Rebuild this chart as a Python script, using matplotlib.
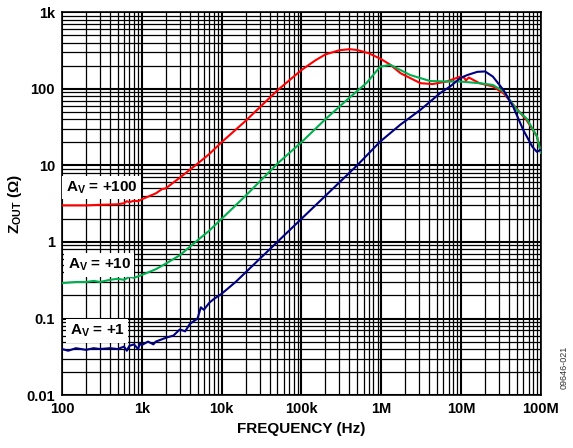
import matplotlib
matplotlib.use("Agg")
import matplotlib.pyplot as plt
from matplotlib.ticker import LogLocator, FixedLocator, NullFormatter

plt.rcParams['font.family'] = ['Liberation Sans', 'DejaVu Sans']
plt.rcParams['mathtext.default'] = 'regular'

# ---- data ----
freq_red = [100, 200, 300, 500, 600, 650, 700, 800, 900, 1e3, 1.5e3, 1.8e3, 2e3, 3e3, 5e3, 7e3,
            1e4, 2e4, 5e4, 1e5, 1.5e5, 2e5, 3e5, 4e5, 5e5, 7e5, 1e6, 1.3e6, 1.75e6, 3.1e6,
            4.4e6, 6.6e6, 9.8e6, 1.1e7, 1.15e7, 1.25e7, 1.7e7, 2.5e7, 3.4e7, 4.5e7, 6.6e7,
            8.9e7, 1e8]
z_red = [3.0, 3.0, 3.05, 3.1, 3.2, 3.4, 3.3, 3.45, 3.4, 3.6, 4.3, 4.9, 5.0, 6.9, 10.5, 14,
         20, 38, 95, 175, 235, 280, 318, 328, 320, 290, 243, 205, 159, 118,
         115, 124, 144, 138, 128, 140, 118, 107, 87, 62, 39,
         24, 14.6]

freq_green = [100, 150, 200, 250, 300, 400, 500, 600, 700, 800, 1e3, 1.2e3, 1.5e3, 2e3, 3e3,
              5e3, 7e3, 1e4, 2e4, 5e4, 1e5, 2e5, 3.75e5, 6.6e5, 9.7e5, 1.3e6, 2.3e6, 4.1e6,
              6.6e6, 9.8e6, 1.7e7, 2.5e7, 3.4e7, 5e7, 6.6e7, 8.9e7, 1e8]
z_green = [0.29, 0.30, 0.30, 0.31, 0.30, 0.32, 0.33, 0.32, 0.35, 0.34, 0.37, 0.40, 0.44, 0.52,
           0.67, 1.05, 1.4, 2.0, 4.0, 10.5, 20, 40, 72, 120, 194, 205, 151, 126,
           124, 124, 118, 112, 92, 53, 41, 24, 14.6]

freq_blue = [100, 120, 150, 200, 250, 300, 400, 500, 600, 650, 700, 800, 900, 950, 1e3, 1.2e3,
             1.4e3, 1.5e3, 2e3, 2.5e3, 3e3, 3.5e3, 4e3, 5e3, 5.5e3, 6e3, 7e3, 8e3, 1e4, 1.5e4,
             2e4, 3e4, 5e4, 1e5, 2e5, 5e5, 9.7e5, 1.74e6, 3.1e6, 5.5e6, 7.3e6, 9.8e6, 1.2e7,
             1.6e7, 2e7, 2.5e7, 3.4e7, 4.5e7, 6e7, 7.8e7, 8.9e7, 1e8]
z_blue = [0.040, 0.038, 0.041, 0.039, 0.041, 0.040, 0.041, 0.040, 0.043, 0.038, 0.044, 0.046,
          0.040, 0.047, 0.045, 0.050, 0.046, 0.050, 0.056, 0.060, 0.072, 0.068, 0.085, 0.10,
          0.14, 0.13, 0.16, 0.18, 0.21, 0.30, 0.40, 0.60, 1.0, 2.0, 4.0, 10, 20.4, 34, 53,
          88, 107, 138, 151, 166, 168, 144, 96, 58, 29, 17.5, 15, 16]

x_ticks = [1e2, 1e3, 1e4, 1e5, 1e6, 1e7, 1e8]
x_labels = ['100', '1k', '10k', '100k', '1M', '10M', '100M']
y_ticks = [0.01, 0.1, 1, 10, 100, 1000]
y_labels = ['0.01', '0.1', '1', '10', '100', '1k']

fig = plt.figure(figsize=(5.73, 4.48), dpi=100)
ax = fig.add_axes([0.108, 0.118, 0.836, 0.855])
ax.set_xscale('log')
ax.set_yscale('log')
ax.set_xlim(1e2, 1e8)
ax.set_ylim(0.01, 1000)

ax.xaxis.set_major_locator(FixedLocator(x_ticks))
ax.yaxis.set_major_locator(FixedLocator(y_ticks))
ax.xaxis.set_minor_locator(LogLocator(base=10, subs=range(2, 10), numticks=20))
ax.yaxis.set_minor_locator(LogLocator(base=10, subs=range(2, 10), numticks=20))
ax.xaxis.set_minor_formatter(NullFormatter())
ax.yaxis.set_minor_formatter(NullFormatter())
ax.set_xticklabels(x_labels, fontsize=10.5, fontweight='bold')
ax.set_yticklabels(y_labels, fontsize=10.5, fontweight='bold')
ax.tick_params(which='both', length=0, pad=5)

ax.grid(True, which='major', color='black', lw=1.5)
ax.grid(True, which='minor', color='black', lw=0.9)
ax.set_axisbelow(True)
for s in ax.spines.values():
    s.set_color('black')
    s.set_linewidth(1.2)

ax.plot(freq_red, z_red, color='#ff0000', lw=1.5, zorder=3)
ax.plot(freq_green, z_green, color='#00b050', lw=1.5, zorder=3)
ax.plot(freq_blue, z_blue, color='#000080', lw=1.5, zorder=4)

box = dict(facecolor='white', edgecolor='none', pad=2.5)
ax.text(112, 5.1, 'A$_{V}$ = +100', fontsize=11, fontweight='bold', va='center', ha='left', bbox=box, zorder=5)
ax.text(118, 0.5, 'A$_{V}$ = +10', fontsize=11, fontweight='bold', va='center', ha='left', bbox=box, zorder=5)
ax.text(125, 0.069, 'A$_{V}$ = +1', fontsize=11, fontweight='bold', va='center', ha='left', bbox=box, zorder=5)

ax.set_xlabel('FREQUENCY (Hz)', fontsize=11, fontweight='bold', labelpad=4)
ax.set_ylabel('Z$_{OUT}$ (Ω)', fontsize=11, fontweight='bold', labelpad=2)

fig.text(0.985, 0.18, '09646-021', rotation=90, fontsize=6.5, color='#333333', ha='center', va='center')

fig.savefig('out.png', dpi=100)
